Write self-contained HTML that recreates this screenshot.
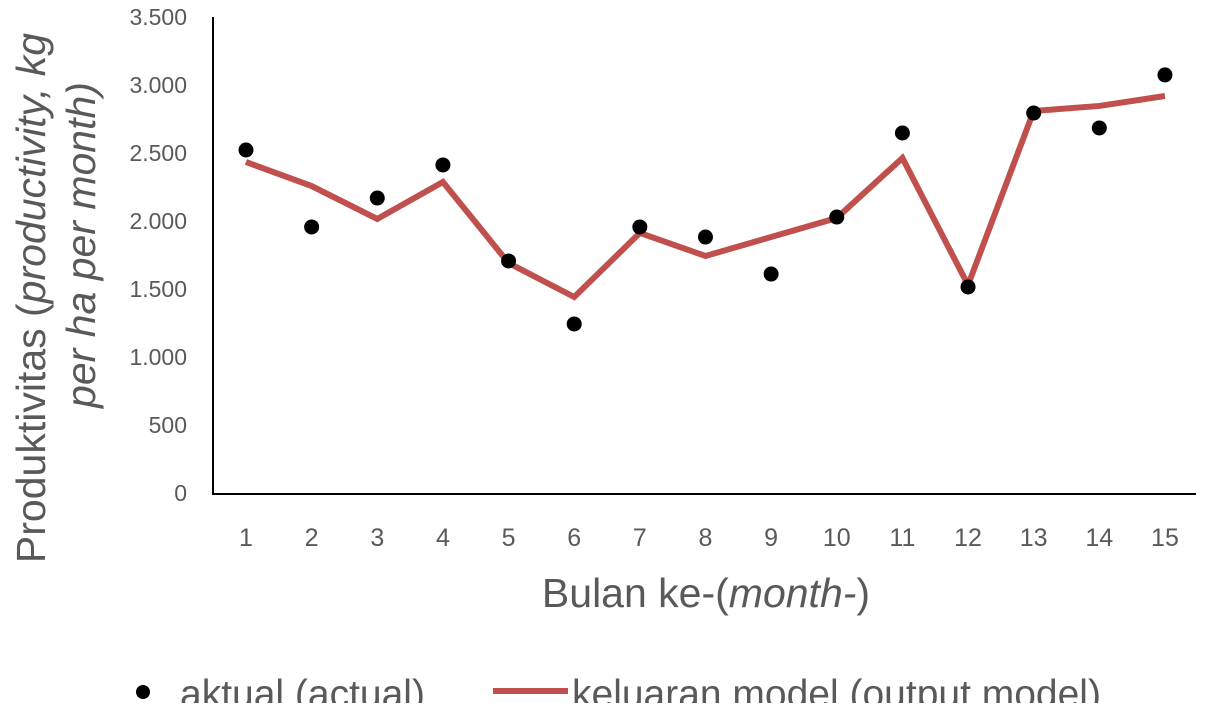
<!DOCTYPE html>
<html><head><meta charset="utf-8"><style>
body{margin:0;background:#fff;width:1207px;height:703px;overflow:hidden}
svg text{font-family:"Liberation Sans",sans-serif;fill:#595959}
</style></head><body>
<svg width="1207" height="703">
<g id="yt"></g>
<g id="xt"></g>
<line x1="213" y1="17" x2="213" y2="494" stroke="#000" stroke-width="2"/>
<line x1="212" y1="494" x2="1196" y2="494" stroke="#000" stroke-width="2"/>
<path id="line" fill="none" stroke="#C0504D" stroke-width="6" stroke-linejoin="miter"/>
<g id="pts"></g>
<text transform="translate(45,298) rotate(-90)" text-anchor="middle" font-size="41">Produktivitas (<tspan font-style="italic">productivity, kg</tspan></text>
<text transform="translate(95,245) rotate(-90)" text-anchor="middle" font-size="41" font-style="italic">per ha per month)</text>
<text x="706" y="607" text-anchor="middle" font-size="41">Bulan ke-(<tspan font-style="italic">month-</tspan>)</text>
<g>
<circle cx="143" cy="692" r="7" fill="#000"/>
<text x="180" y="707" font-size="39">aktual (actual)</text>
<line x1="493" y1="691" x2="568" y2="691" stroke="#C0504D" stroke-width="6"/>
<text x="572" y="707" font-size="39">keluaran model (output model)</text>
</g>
</svg>
<script>
const months=[1,2,3,4,5,6,7,8,9,10,11,12,13,14,15];
const actual=[2522,1956,2169,2412,1706,1243,1956,1882,1610,2029,2647,1515,2794,2684,3074];
const model=[2434,2257,2015,2287,1691,1441,1912,1743,1882,2022,2463,1529,2809,2846,2919];
const yTicks=[0,500,1000,1500,2000,2500,3000,3500];
const yTickLabels=["0","500","1.000","1.500","2.000","2.500","3.000","3.500"];
const ns="http://www.w3.org/2000/svg";
const X=m=>246+(m-1)*65.64;
const Y=v=>493-v*0.136;
const yt=document.getElementById('yt');
yTicks.forEach((t,i)=>{const e=document.createElementNS(ns,'text');
e.setAttribute('x',187);e.setAttribute('y',Y(t)+8);e.setAttribute('text-anchor','end');e.setAttribute('font-size','23');


e.textContent=yTickLabels[i];yt.appendChild(e);});
const xt=document.getElementById('xt');
months.forEach(m=>{const e=document.createElementNS(ns,'text');
e.setAttribute('x',X(m));e.setAttribute('y',546);e.setAttribute('text-anchor','middle');e.setAttribute('font-size','25');


e.textContent=m;xt.appendChild(e);});
document.getElementById('line').setAttribute('d',model.map((v,i)=>(i?'L':'M')+X(months[i])+','+Y(v)).join(''));
const pts=document.getElementById('pts');
actual.forEach((v,i)=>{const c=document.createElementNS(ns,'circle');
c.setAttribute('cx',X(months[i]));c.setAttribute('cy',Y(v));c.setAttribute('r',7.5);c.setAttribute('fill','#000');


pts.appendChild(c);});
</script>
</body></html>
